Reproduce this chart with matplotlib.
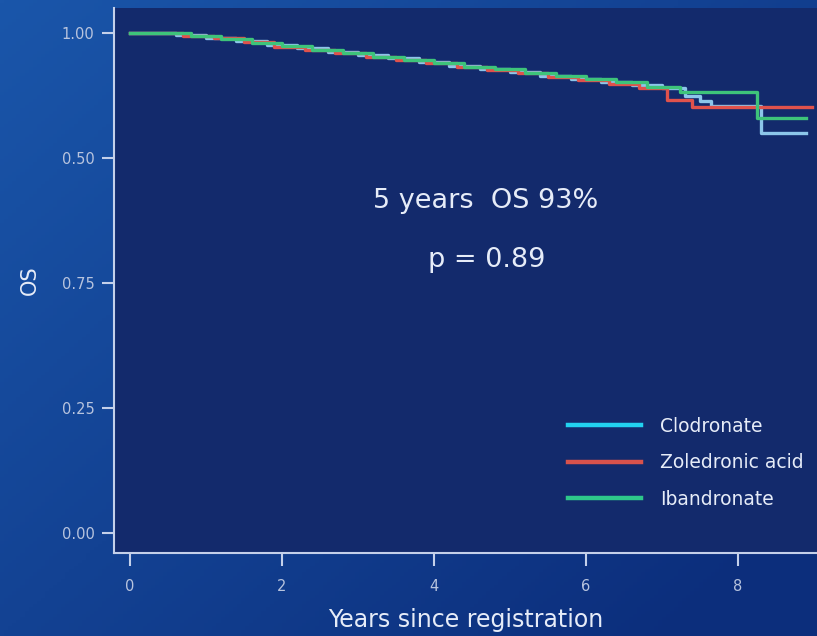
import numpy as np
import matplotlib.pyplot as plt
from matplotlib.lines import Line2D

plt.rcParams['font.family'] = ['DejaVu Sans']

# Kaplan-Meier step data (years, OS)
clod_t = [0, 0.6, 1.0, 1.4, 1.8, 2.2, 2.6, 3.0, 3.4, 3.8, 4.2, 4.6, 5.0, 5.4, 5.8, 6.2, 6.6, 7.0, 7.3, 7.5, 7.65, 8.3, 8.9]
clod_s = [1.0, 0.996, 0.99, 0.984, 0.977, 0.97, 0.963, 0.956, 0.95, 0.943, 0.935, 0.928, 0.922, 0.915, 0.908, 0.902, 0.896, 0.89, 0.875, 0.865, 0.855, 0.80, 0.80]

zol_t = [0, 0.7, 1.1, 1.5, 1.9, 2.3, 2.7, 3.1, 3.5, 3.9, 4.3, 4.7, 5.1, 5.5, 5.9, 6.3, 6.7, 7.07, 7.4, 8.97]
zol_s = [1.0, 0.995, 0.99, 0.982, 0.972, 0.966, 0.96, 0.953, 0.946, 0.94, 0.932, 0.927, 0.92, 0.913, 0.906, 0.898, 0.891, 0.866, 0.852, 0.852]

iban_t = [0, 0.8, 1.2, 1.6, 2.0, 2.4, 2.8, 3.2, 3.6, 4.0, 4.4, 4.8, 5.2, 5.6, 6.0, 6.4, 6.8, 7.24, 8.25, 8.9]
iban_s = [1.0, 0.995, 0.988, 0.98, 0.974, 0.967, 0.96, 0.952, 0.946, 0.94, 0.933, 0.928, 0.92, 0.914, 0.909, 0.902, 0.893, 0.882, 0.83, 0.83]

series_names = ['Clodronate', 'Zoledronic acid', 'Ibandronate']
line_colors = ['#8cc6ea', '#e0524c', '#3ec47a']
legend_colors = ['#22d2f0', '#d8524c', '#2ec88a']

x_ticks = [0, 2, 4, 6, 8]
y_ticks = [0, 0.25, 0.5, 0.75, 1.0]
y_tick_labels = ['0.00', '0.25', '0.75', '0.50', '1.00']  # as printed on the slide

txt = '#e6ecf8'
axc = '#c4d0ea'

fig = plt.figure(figsize=(8.17, 6.36), dpi=100)

# blue slide background gradient
bg = fig.add_axes([0, 0, 1, 1], zorder=-10)
gx = np.linspace(0, 1, 200)
gy = np.linspace(0, 1, 200)
GX, GY = np.meshgrid(gx, gy)
c1 = np.array([0x1a, 0x56, 0xaa]) / 255
c2 = np.array([0x0c, 0x2e, 0x7c]) / 255
w = np.clip(0.6 * GX + 0.5 * GY, 0, 1)[..., None]
img = c1 * (1 - w) + c2 * w
bg.imshow(img, extent=[0, 1, 0, 1], aspect='auto')
bg.axis('off')

ax = fig.add_axes([114 / 817, 83 / 636, 703 / 817, 545 / 636])
ax.set_facecolor('#132a6c')
ax.set_xlim(-0.21, -0.21 + 703 / 76)
ax.set_ylim(-0.04, 1.05)

ax.step(clod_t, clod_s, where='post', color=line_colors[0], lw=2.4, zorder=3)
ax.step(zol_t, zol_s, where='post', color=line_colors[1], lw=2.4, zorder=4)
ax.step(iban_t, iban_s, where='post', color=line_colors[2], lw=2.4, zorder=5)

for side in ['top', 'right']:
    ax.spines[side].set_visible(False)
for side in ['left', 'bottom']:
    ax.spines[side].set_color(axc)
    ax.spines[side].set_linewidth(1.5)

ax.set_xticks(x_ticks)
ax.set_yticks(y_ticks)
ax.set_yticklabels(y_tick_labels)
ax.tick_params(colors=axc, labelcolor='#b8c4de', length=9, width=1.5,
               labelsize=10.5, direction='out')
ax.tick_params(axis='x', pad=10)
ax.tick_params(axis='y', pad=5)

ax.set_xlabel('Years since registration', color=txt, fontsize=17, labelpad=10)
ax.set_ylabel('OS', color=txt, fontsize=15, labelpad=16)

fig.text(486 / 817, 1 - 201 / 636, '5 years  OS 93%', color=txt,
         fontsize=19.5, ha='center', va='center')
fig.text(487 / 817, 1 - 260 / 636, 'p = 0.89', color=txt, fontsize=19.5,
         ha='center', va='center')

handles = [Line2D([0], [0], color=c, lw=3.2) for c in legend_colors]
leg = ax.legend(handles, series_names, loc='upper left',
                bbox_to_anchor=(551 / 817, 1 - 400 / 636),
                bbox_transform=fig.transFigure, frameon=False,
                fontsize=13.5, handlelength=3.9, handletextpad=1.0,
                labelspacing=0.93)
for t in leg.get_texts():
    t.set_color(txt)

fig.savefig('out.png', dpi=100)
